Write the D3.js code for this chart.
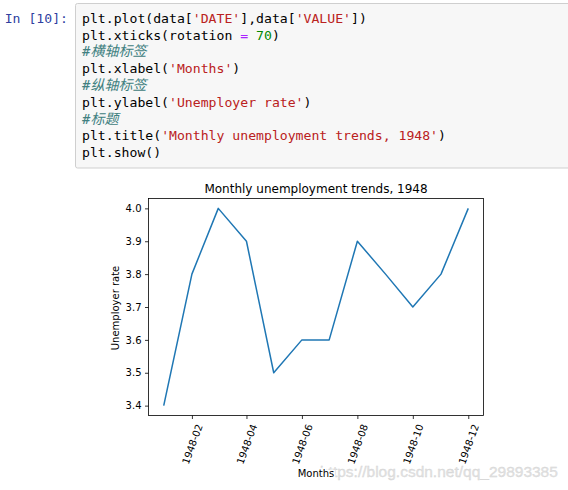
<!DOCTYPE html>
<html>
<head>
<meta charset="utf-8">
<script src="https://cdn.jsdelivr.net/npm/d3@7"></script>
<style>
body { margin: 0; background: #fff; }
svg { display: block; }
.code text { font-family: "DejaVu Sans Mono", monospace; font-size: 13.15px; white-space: pre; }
.chart text { font-family: "DejaVu Sans", sans-serif; fill: #000; }
</style>
</head>
<body>
<svg id="page" width="568" height="490"></svg>
<script>
// data
const months = ['1948-01', '1948-02', '1948-03', '1948-04', '1948-05', '1948-06',
                '1948-07', '1948-08', '1948-09', '1948-10', '1948-11', '1948-12'];
const rates = [3.4, 3.8, 4.0, 3.9, 3.5, 3.6, 3.6, 3.9, 3.8, 3.7, 3.8, 4.0];
const yTicks = [3.4, 3.5, 3.6, 3.7, 3.8, 3.9, 4.0];
const xTicks = ['1948-02', '1948-04', '1948-06', '1948-08', '1948-10', '1948-12'];

// notebook cell, one array of [text, kind] per line
const codeLines = [
    [['plt.plot(data[', 'p'], ["'DATE'", 's'], ['],data[', 'p'], ["'VALUE'", 's'], ['])', 'p']],
    [['plt.xticks(rotation ', 'p'], ['=', 'o'], [' ', 'p'], ['70', 'n'], [')', 'p']],
    [['#横轴标签', 'c']],
    [['plt.xlabel(', 'p'], ["'Months'", 's'], [')', 'p']],
    [['#纵轴标签', 'c']],
    [['plt.ylabel(', 'p'], ["'Unemployer rate'", 's'], [')', 'p']],
    [['#标题', 'c']],
    [['plt.title(', 'p'], ["'Monthly unemployment trends, 1948'", 's'], [')', 'p']],
    [['plt.show()', 'p']]
];
const tokenColor = { p: '#000', s: '#BA2121', n: '#008800', o: '#AA22FF', c: '#408080' };

const svg = d3.select('#page');

// ---- code cell ----
const code = svg.append('g').attr('class', 'code');
code.append('rect')
    .attr('x', 75.5).attr('y', 3.5)
    .attr('width', 520).attr('height', 164.5)
    .attr('rx', 2)
    .attr('fill', '#f7f7f7')
    .attr('stroke', '#cfcfcf');

code.append('text')
    .attr('x', 68).attr('y', 22.8)
    .attr('text-anchor', 'end')
    .attr('fill', '#303F9F')
    .text('In [10]:');

codeLines.forEach((line, i) => {
    const t = code.append('text').attr('x', 82).attr('y', 22.8 + i * 16.8);
    line.forEach(([txt, kind]) => {
        const s = t.append('tspan').text(txt).attr('fill', tokenColor[kind]);
        if (kind === 'c') {
            s.attr('font-style', 'italic')
             .style('font-family', '"DejaVu Sans Mono", "Noto Sans CJK SC", monospace')
             .style('font-size', '14px');
        }
    });
});

// ---- chart ----
const chart = svg.append('g').attr('class', 'chart');
const axLeft = 148.5, axRight = 483.5, axTop = 198.5, axBottom = 415.5;

const parse = d3.utcParse('%Y-%m');
const dates = months.map(parse);
const t0 = dates[0], t1 = dates[dates.length - 1];
const pad = (t1 - t0) * 0.05;
const x = d3.scaleUtc()
    .domain([new Date(+t0 - pad), new Date(+t1 + pad)])
    .range([axLeft, axRight]);

const yPad = (d3.max(rates) - d3.min(rates)) * 0.05;
const y = d3.scaleLinear()
    .domain([d3.min(rates) - yPad, d3.max(rates) + yPad])
    .range([axBottom, axTop]);

// line
chart.append('path')
    .datum(rates)
    .attr('fill', 'none')
    .attr('stroke', '#1f77b4')
    .attr('stroke-width', 1.5)
    .attr('stroke-linejoin', 'round')
    .attr('d', d3.line().x((d, i) => x(dates[i])).y(d => y(d)));

// y axis
const yAxis = chart.append('g')
    .attr('transform', `translate(${axLeft},0)`)
    .call(d3.axisLeft(y).tickValues(yTicks).tickFormat(d3.format('.1f'))
        .tickSize(3.5).tickPadding(3.5).tickSizeOuter(0));
yAxis.select('.domain').remove();
yAxis.selectAll('line').attr('stroke', '#000').attr('stroke-width', 0.8);
yAxis.selectAll('text').attr('font-size', 10).attr('font-family', '"DejaVu Sans", sans-serif').attr('fill', '#000');

// x axis with labels rotated 70 degrees, box centred under each tick
const xAxis = chart.append('g')
    .attr('transform', `translate(0,${axBottom})`)
    .call(d3.axisBottom(x).tickValues(xTicks.map(parse)).tickFormat(d3.utcFormat('%Y-%m'))
        .tickSize(3.5).tickSizeOuter(0));
xAxis.select('.domain').remove();
xAxis.selectAll('line').attr('stroke', '#000').attr('stroke-width', 0.8);
const ang = 70 * Math.PI / 180;
xAxis.selectAll('text')
    .attr('font-size', 10).attr('font-family', '"DejaVu Sans", sans-serif').attr('fill', '#000')
    .attr('text-anchor', 'middle')
    .attr('y', 0).attr('dy', '0.35em')
    .each(function() {
        const w = this.getComputedTextLength();
        const h = 11.6;
        const cy = 3.5 + 3.5 + (w * Math.sin(ang) + h * Math.cos(ang)) / 2;
        d3.select(this).attr('transform', `translate(0,${cy}) rotate(-70)`);
    });

// frame
chart.append('rect')
    .attr('x', axLeft).attr('y', axTop)
    .attr('width', axRight - axLeft).attr('height', axBottom - axTop)
    .attr('fill', 'none').attr('stroke', '#000').attr('stroke-width', 0.8);

// title and labels
chart.append('text')
    .attr('x', (axLeft + axRight) / 2).attr('y', axTop - 6)
    .attr('text-anchor', 'middle').attr('font-size', 12)
    .text('Monthly unemployment trends, 1948');

chart.append('text')
    .attr('transform', `translate(115,${(axTop + axBottom) / 2 + 1}) rotate(-90)`)
    .attr('text-anchor', 'middle').attr('dy', '0.35em').attr('font-size', 10)
    .text('Unemployer rate');

// watermark sits under the x label
svg.append('text')
    .attr('x', 320).attr('y', 476.5)
    .attr('font-family', '"Liberation Sans", Arial, sans-serif')
    .attr('font-size', 15.5)
    .attr('fill', '#e2e2e2')
    .attr('stroke', '#d2d2d2').attr('stroke-width', 0.3)
    .text('https://blog.csdn.net/qq_29893385');

svg.append('text')
    .attr('x', (axLeft + axRight) / 2).attr('y', 476.5)
    .attr('text-anchor', 'middle')
    .attr('font-family', '"DejaVu Sans", sans-serif').attr('font-size', 10)
    .attr('fill', '#000')
    .attr('stroke', '#fff').attr('stroke-width', 3).attr('paint-order', 'stroke')
    .text('Months');
</script>
</body>
</html>
